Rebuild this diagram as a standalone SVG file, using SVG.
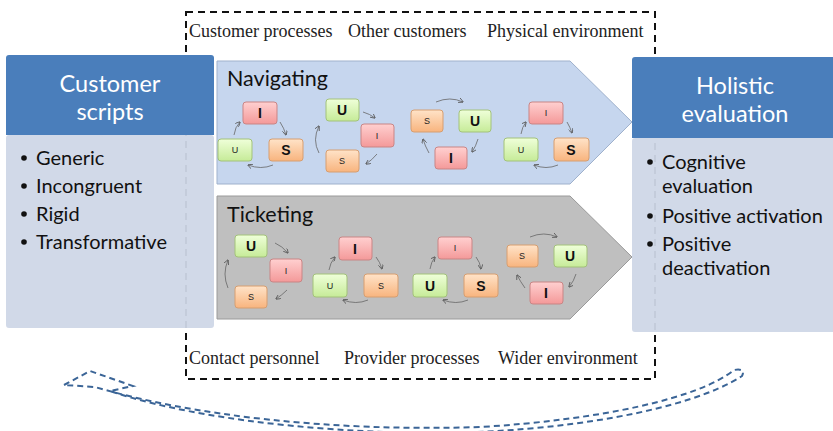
<svg xmlns="http://www.w3.org/2000/svg" width="833" height="431" viewBox="0 0 833 431">
<defs>
<linearGradient id="gr" x1="0" y1="0" x2="0" y2="1"><stop offset="0" stop-color="#ffd0d0"/><stop offset="1" stop-color="#f49999"/></linearGradient>
<linearGradient id="gg" x1="0" y1="0" x2="0" y2="1"><stop offset="0" stop-color="#efffd9"/><stop offset="1" stop-color="#c6eb98"/></linearGradient>
<linearGradient id="go" x1="0" y1="0" x2="0" y2="1"><stop offset="0" stop-color="#ffe3c8"/><stop offset="1" stop-color="#f8b47e"/></linearGradient>
<marker id="ah" viewBox="0 0 10 10" refX="9" refY="5" markerWidth="5" markerHeight="5" markerUnits="userSpaceOnUse" orient="auto"><path d="M0,0 L10,5 L0,10" fill="none" stroke="#555" stroke-width="1.6"/></marker>
</defs>
<style>
.hdr{fill:#4a7ebb}
.body{fill:#cfd7e7;opacity:0.95}
.ht{font-family:Lato,"Open Sans",sans-serif;font-size:23.5px;fill:#fff;text-anchor:middle}
.bt{font-family:Lato,"Open Sans",sans-serif;font-size:20px;fill:#111}
.st{font-family:"Liberation Serif",serif;font-size:18px;fill:#222}
.ttl{font-family:Lato,"Open Sans",sans-serif;font-size:21.5px;fill:#111}
.r{fill:url(#gr);stroke:#c98585;stroke-width:1}
.g{fill:url(#gg);stroke:#a3c27a;stroke-width:1}
.o{fill:url(#go);stroke:#d79e70;stroke-width:1}
.lb{font-family:"Liberation Sans",Arial,sans-serif;font-size:14px;font-weight:bold;fill:#111;text-anchor:middle}
.ls{font-family:"Liberation Sans",Arial,sans-serif;font-size:9px;fill:#222;text-anchor:middle}
.cn path{fill:none;stroke:#666;stroke-width:0.8;marker-end:url(#ah)}
</style>
<rect width="833" height="431" fill="#fff"/>

<g id="frame">
<rect x="186" y="12" width="469" height="367" fill="none" stroke="#111" stroke-width="2" stroke-dasharray="7,5"/>
<text class="st" x="189" y="37">Customer processes</text>
<text class="st" x="348" y="37">Other customers</text>
<text class="st" x="487" y="37">Physical environment</text>
<text class="st" x="189" y="364">Contact personnel</text>
<text class="st" x="344" y="364">Provider processes</text>
<text class="st" x="498" y="364">Wider environment</text>
</g>

<g id="customer-scripts">
<rect class="body" x="6" y="135" width="208" height="193" rx="3"/>
<path class="hdr" d="M9,55 H211 Q214,55 214,58 V135 H6 V58 Q6,55 9,55 Z"/>
<text class="ht" x="110" y="92">Customer</text>
<text class="ht" x="110" y="120">scripts</text>
<g class="bt">
<circle cx="24" cy="158" r="2.8" fill="#111"/><text x="36" y="165">Generic</text>
<circle cx="24" cy="186" r="2.8" fill="#111"/><text x="36" y="193">Incongruent</text>
<circle cx="24" cy="214" r="2.8" fill="#111"/><text x="36" y="221">Rigid</text>
<circle cx="24" cy="242" r="2.8" fill="#111"/><text x="36" y="249">Transformative</text>
</g>
</g>

<g id="holistic-evaluation">
<rect class="body" x="632" y="138" width="203" height="194" rx="3"/>
<path class="hdr" d="M635,57 H835 V138 H632 V60 Q632,57 635,57 Z"/>
<text class="ht" x="735" y="94">Holistic</text>
<text class="ht" x="735" y="122">evaluation</text>
<g class="bt">
<circle cx="650" cy="162" r="2.8" fill="#111"/><text x="662" y="169">Cognitive</text>
<text x="662" y="193">evaluation</text>
<circle cx="650" cy="216" r="2.8" fill="#111"/><text x="662" y="223">Positive activation</text>
<circle cx="650" cy="244" r="2.8" fill="#111"/><text x="662" y="251">Positive</text>
<text x="662" y="275">deactivation</text>
</g>
</g>

<g id="navigating">
<polygon points="217,61 570,61 632,122 570,184 217,184" fill="#c6d6ee" stroke="#9fb1cc" stroke-width="1"/>
<text class="ttl" x="227" y="86">Navigating</text>
</g>

<g id="ticketing">
<polygon points="217,196 570,196 632,257 570,319 217,319" fill="#bfbfbf" stroke="#9a9a9a" stroke-width="1"/>
<text class="ttl" x="227" y="222">Ticketing</text>
</g>

<g id="nav-cycle-1">
<rect class="r" x="243" y="102" width="34" height="22" rx="3"/><text class="lb" x="260" y="118">I</text>
<rect class="g" x="218" y="139" width="34" height="22" rx="3"/><text class="ls" x="235" y="153">U</text>
<rect class="o" x="269" y="139" width="34" height="22" rx="3"/><text class="lb" x="286" y="155">S</text>
</g>
<g id="nav-cycle-2">
<rect class="g" x="326" y="99" width="33" height="22" rx="3"/><text class="lb" x="342" y="115">U</text>
<rect class="r" x="361" y="124" width="33" height="23" rx="3"/><text class="ls" x="377" y="139">I</text>
<rect class="o" x="326" y="150" width="33" height="22" rx="3"/><text class="ls" x="342" y="164">S</text>
</g>
<g id="nav-cycle-3">
<rect class="o" x="411" y="110" width="32" height="22" rx="3"/><text class="ls" x="427" y="124">S</text>
<rect class="g" x="459" y="110" width="32" height="22" rx="3"/><text class="lb" x="475" y="126">U</text>
<rect class="r" x="435" y="147" width="32" height="22" rx="3"/><text class="lb" x="451" y="163">I</text>
</g>
<g id="nav-cycle-4">
<rect class="r" x="529" y="102" width="34" height="22" rx="3"/><text class="ls" x="546" y="116">I</text>
<rect class="g" x="504" y="138" width="34" height="23" rx="3"/><text class="ls" x="521" y="153">U</text>
<rect class="o" x="554" y="138" width="35" height="23" rx="3"/><text class="lb" x="571" y="155">S</text>
</g>

<g id="tick-cycle-1">
<rect class="g" x="235" y="235" width="32" height="22" rx="3"/><text class="lb" x="251" y="251">U</text>
<rect class="r" x="270" y="259" width="32" height="23" rx="3"/><text class="ls" x="286" y="274">I</text>
<rect class="o" x="235" y="286" width="32" height="22" rx="3"/><text class="ls" x="251" y="300">S</text>
</g>
<g id="tick-cycle-2">
<rect class="r" x="339" y="237" width="33" height="23" rx="3"/><text class="lb" x="355" y="254">I</text>
<rect class="g" x="313" y="274" width="34" height="23" rx="3"/><text class="ls" x="330" y="289">U</text>
<rect class="o" x="364" y="274" width="34" height="23" rx="3"/><text class="ls" x="381" y="289">S</text>
</g>
<g id="tick-cycle-3">
<rect class="r" x="438" y="237" width="34" height="22" rx="3"/><text class="ls" x="455" y="251">I</text>
<rect class="g" x="413" y="274" width="34" height="23" rx="3"/><text class="lb" x="430" y="291">U</text>
<rect class="o" x="464" y="274" width="34" height="23" rx="3"/><text class="lb" x="481" y="291">S</text>
</g>
<g id="tick-cycle-4">
<rect class="o" x="507" y="245" width="31" height="22" rx="3"/><text class="ls" x="522" y="259">S</text>
<rect class="g" x="554" y="245" width="33" height="22" rx="3"/><text class="lb" x="570" y="261">U</text>
<rect class="r" x="530" y="282" width="33" height="22" rx="3"/><text class="lb" x="546" y="298">I</text>
</g>

<g id="connectors" class="cn">
<path d="M234,135 Q235,127 240,122"/>
<path d="M280,122 Q284,128 286,135"/>
<path d="M273,165 Q261,170 248,165"/>
<path d="M363,112 Q370,114 375,118"/>
<path d="M377,154 Q372,160 366,164"/>
<path d="M319,153 Q312,140 319,126"/>
<path d="M436,102 Q450,96 463,102"/>
<path d="M478,139 Q476,146 472,152"/>
<path d="M429,153 Q425,146 423,139"/>
<path d="M521,134 Q522,127 526,122"/>
<path d="M567,122 Q570,127 572,133"/>
<path d="M558,165 Q546,170 534,165"/>
<path d="M275,243 Q282,246 288,253"/>
<path d="M287,290 Q282,295 276,299"/>
<path d="M228,288 Q222,274 228,260"/>
<path d="M329,270 Q330,263 335,257"/>
<path d="M376,257 Q380,262 382,269"/>
<path d="M368,300 Q356,305 343,300"/>
<path d="M430,269 Q431,262 435,257"/>
<path d="M476,257 Q480,262 481,269"/>
<path d="M468,300 Q456,305 443,300"/>
<path d="M530,237 Q544,231 557,237"/>
<path d="M576,274 Q574,281 569,287"/>
<path d="M525,288 Q520,281 517,275"/>
</g>

<g id="feedback-arrow">
<path d="M64,385 L90,371 L133,386 L110,391 C180,415 300,432 430,433 C560,433 690,410 742,376 Q746,368 734,370 C700,398 600,420 480,427 C330,432 190,415 95,387 Z" fill="none" stroke="#3b6597" stroke-width="2" stroke-dasharray="6,4"/>
</g>
</svg>
